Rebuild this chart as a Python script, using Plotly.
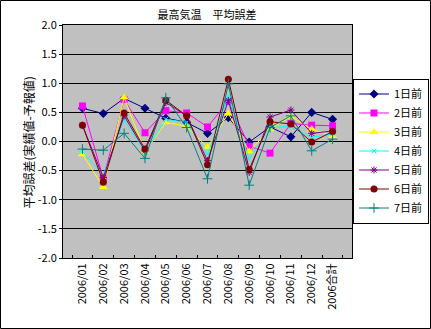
import plotly.graph_objects as go

# Monthly categories and the yearly total
categories = ["2006/01", "2006/02", "2006/03", "2006/04", "2006/05", "2006/06",
              "2006/07", "2006/08", "2006/09", "2006/10", "2006/11", "2006/12", "2006合計"]

# Mean error (observed - forecast) by forecast lead time
lead1 = [0.57, 0.48, 0.74, 0.57, 0.40, 0.33, 0.14, 0.41, -0.01, 0.25, 0.08, 0.50, 0.38]
lead2 = [0.61, -0.63, 0.72, 0.15, 0.53, 0.49, 0.25, 0.69, -0.08, -0.20, 0.31, 0.28, 0.27]
lead3 = [-0.22, -0.78, 0.76, -0.18, 0.33, 0.26, -0.10, 0.48, -0.17, 0.21, 0.43, 0.21, 0.10]
lead4 = [-0.17, -0.58, 0.38, -0.19, 0.38, 0.33, -0.22, 0.78, -0.30, 0.24, 0.26, 0.07, 0.13]
lead5 = [0.28, -0.62, 0.44, -0.16, 0.67, 0.44, -0.33, 0.70, -0.53, 0.42, 0.54, 0.14, 0.18]
lead6 = [0.28, -0.70, 0.49, -0.13, 0.71, 0.44, -0.40, 1.07, -0.48, 0.34, 0.30, -0.01, 0.17]
lead7 = [-0.13, -0.15, 0.14, -0.29, 0.75, 0.24, -0.64, 0.99, -0.75, 0.24, 0.44, -0.16, 0.04]

series_names = ["1日前", "2日前", "3日前", "4日前", "5日前", "6日前", "7日前"]
series_values = [lead1, lead2, lead3, lead4, lead5, lead6, lead7]

y_ticks = [2.0, 1.5, 1.0, 0.5, 0.0, -0.5, -1.0, -1.5, -2.0]
y_tick_text = ["2.0", "1.5", "1.0", "0.5", "0.0", "-0.5", "-1.0", "-1.5", "-2.0"]

styles = [
    dict(color="#000080", symbol="diamond", size=7),
    dict(color="#FF00FF", symbol="square", size=7),
    dict(color="#FFFF00", symbol="triangle-up", size=8),
    dict(color="#00FFFF", symbol="x-thin", size=5),
    dict(color="#800080", symbol="asterisk", size=6),
    dict(color="#800000", symbol="circle", size=7),
    dict(color="#008080", symbol="cross-thin", size=7),
]

font = "MS PGothic, Noto Sans CJK JP, sans-serif"

fig = go.Figure()
for name, vals, st in zip(series_names, series_values, styles):
    thin = st["symbol"] in ("x-thin", "asterisk", "cross-thin")
    fig.add_trace(go.Scatter(
        x=categories, y=vals, name=name, mode="lines+markers",
        line=dict(color=st["color"], width=1),
        marker=dict(symbol=st["symbol"], size=st["size"], color=st["color"],
                    line=dict(color=st["color"], width=1 if thin else 0)),
    ))

# pixel geometry of the plot area
L, R, T, B = 63, 352, 25, 258
W, H = 431, 329
pw, ph = R - L, B - T


def px(x):
    return (x - L) / pw


def py(y):
    return (B - y) / ph


fig.update_layout(
    width=W, height=H,
    margin=dict(l=L, r=W - R, t=T, b=H - B, autoexpand=False),
    paper_bgcolor="white", plot_bgcolor="#C0C0C0",
    font=dict(family=font, size=11, color="black"),
    title=dict(text="最高気温　平均誤差", x=207 / W, xanchor="center",
               y=1 - 15 / H, yanchor="middle", font=dict(size=11)),
    showlegend=True,
    legend=dict(x=px(353), y=py(151), xanchor="left", yanchor="middle",
                bordercolor="black", borderwidth=1, bgcolor="white",
                font=dict(size=11), itemwidth=30, tracegroupgap=0),
    xaxis=dict(type="category", tickangle=-90, showgrid=False,
               ticks="inside", ticklen=3, tickson="boundaries", tickcolor="black",
               showline=True, linecolor="black", linewidth=1, mirror=True,
               tickfont=dict(size=11)),
    yaxis=dict(range=[-2, 2], tickvals=y_ticks, ticktext=y_tick_text,
               showgrid=True, gridcolor="black", gridwidth=1,
               zeroline=False, ticks="outside", ticklen=3, tickcolor="black",
               showline=True, linecolor="black", linewidth=1, mirror=True,
               tickfont=dict(size=11)),
    annotations=[dict(text="平均誤差(実績値-予報値)", textangle=-90,
                      x=px(17), y=py(143), xref="paper", yref="paper",
                      showarrow=False, font=dict(size=12))],
    shapes=[dict(type="rect", xref="paper", yref="paper",
                 x0=px(0.5), x1=px(W - 0.5), y0=py(H - 0.5), y1=py(0.5),
                 line=dict(color="black", width=1), layer="below")],
)

fig.write_html("out.html")
